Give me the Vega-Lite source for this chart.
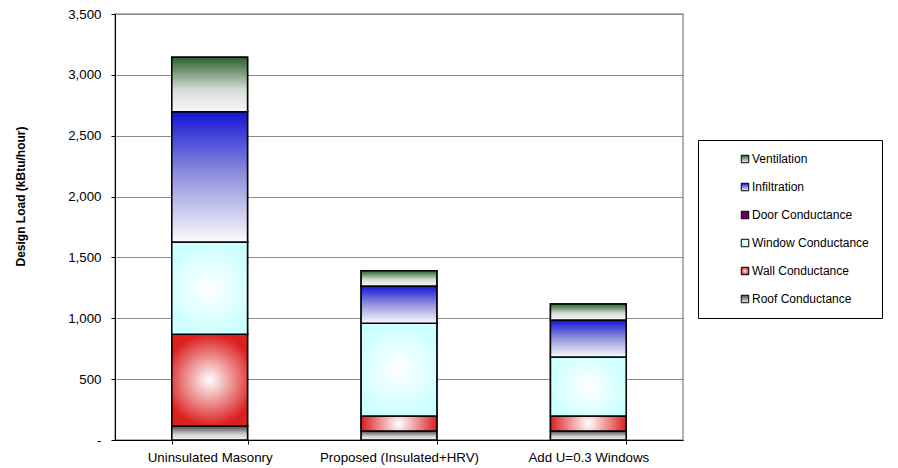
{
  "$schema": "https://vega.github.io/schema/vega-lite/v6.json",
  "width": 568,
  "height": 426,
  "autosize": {"type": "none"},
  "padding": {"left": 115, "top": 14, "right": 215, "bottom": 28},
  "background": "white",
  "config": {
    "font": "Liberation Sans",
    "view": {"stroke": "#9a9a9a", "strokeWidth": 1.5}
  },
  "data": {
    "values": [
      {"scenario": "Uninsulated Masonry", "component": "Roof Conductance", "idx": 1, "load": 115},
      {"scenario": "Uninsulated Masonry", "component": "Wall Conductance", "idx": 2, "load": 753},
      {"scenario": "Uninsulated Masonry", "component": "Window Conductance", "idx": 3, "load": 759},
      {"scenario": "Uninsulated Masonry", "component": "Door Conductance", "idx": 4, "load": 0},
      {"scenario": "Uninsulated Masonry", "component": "Infiltration", "idx": 5, "load": 1070},
      {"scenario": "Uninsulated Masonry", "component": "Ventilation", "idx": 6, "load": 447},
      {"scenario": "Proposed (Insulated+HRV)", "component": "Roof Conductance", "idx": 1, "load": 74},
      {"scenario": "Proposed (Insulated+HRV)", "component": "Wall Conductance", "idx": 2, "load": 123},
      {"scenario": "Proposed (Insulated+HRV)", "component": "Window Conductance", "idx": 3, "load": 762},
      {"scenario": "Proposed (Insulated+HRV)", "component": "Door Conductance", "idx": 4, "load": 0},
      {"scenario": "Proposed (Insulated+HRV)", "component": "Infiltration", "idx": 5, "load": 306},
      {"scenario": "Proposed (Insulated+HRV)", "component": "Ventilation", "idx": 6, "load": 126},
      {"scenario": "Add U=0.3 Windows", "component": "Roof Conductance", "idx": 1, "load": 74},
      {"scenario": "Add U=0.3 Windows", "component": "Wall Conductance", "idx": 2, "load": 123},
      {"scenario": "Add U=0.3 Windows", "component": "Window Conductance", "idx": 3, "load": 485},
      {"scenario": "Add U=0.3 Windows", "component": "Door Conductance", "idx": 4, "load": 0},
      {"scenario": "Add U=0.3 Windows", "component": "Infiltration", "idx": 5, "load": 304},
      {"scenario": "Add U=0.3 Windows", "component": "Ventilation", "idx": 6, "load": 131}
    ]
  },
  "transform": [
    {"stack": "load", "groupby": ["scenario"], "sort": [{"field": "idx", "order": "ascending"}], "as": ["y0", "y1"]}
  ],
  "encoding": {
    "x": {
      "field": "scenario",
      "type": "nominal",
      "sort": null,
      "scale": {"paddingInner": 0.6, "paddingOuter": 0.3},
      "axis": {
        "title": null,
        "labelAngle": 0,
        "tickBand": "extent",
        "tickSize": 4,
        "domainColor": "#000000",
        "tickColor": "#000000",
        "labelFontSize": 13.3,
        "labelColor": "#000000",
        "labelPadding": 6,
        "grid": false
      }
    },
    "y": {
      "field": "y1",
      "type": "quantitative",
      "scale": {"domain": [0, 3500], "nice": false},
      "axis": {
        "values": [0, 500, 1000, 1500, 2000, 2500, 3000, 3500],
        "grid": true,
        "gridColor": "#8c8c8c",
        "domainColor": "#000000",
        "tickColor": "#000000",
        "tickSize": 4,
        "labelFontSize": 13.3,
        "labelColor": "#000000",
        "labelPadding": 10,
        "labelExpr": "datum.value === 0 ? '-\u00a0\u00a0' : datum.label",
        "title": "Design Load (kBtu/hour)",
        "titleFontSize": 12,
        "titleFontWeight": "bold",
        "titleColor": "#000000",
        "titleX": -88,
        "titleY": 182,
        "titleAlign": "center",
        "titleBaseline": "bottom"
      }
    },
    "y2": {"field": "y0"}
  },
  "layer": [
    {
      "mark": {"type": "bar", "stroke": "#000000", "strokeWidth": 1.5},
      "encoding": {
        "color": {
          "field": "component",
          "type": "nominal",
          "scale": {
            "domain": ["Ventilation", "Infiltration", "Door Conductance", "Window Conductance", "Wall Conductance", "Roof Conductance"],
            "range": [
              {"expr": "{gradient: 'linear', x1: 0, y1: 0, x2: 0, y2: 1, stops: [{offset: 0, color: '#2a632b'}, {offset: 1, color: '#f7f7f7'}]}"},
              {"expr": "{gradient: 'linear', x1: 0, y1: 0, x2: 0, y2: 1, stops: [{offset: 0, color: '#1414d6'}, {offset: 1, color: '#fbfbfd'}]}"},
              "#660066",
              {"expr": "{gradient: 'radial', x1: 0.5, y1: 0.5, r1: 0, x2: 0.5, y2: 0.5, r2: 0.5, stops: [{offset: 0, color: '#ffffff'}, {offset: 1, color: '#ccffff'}]}"},
              {"expr": "{gradient: 'radial', x1: 0.5, y1: 0.5, r1: 0, x2: 0.5, y2: 0.5, r2: 0.5, stops: [{offset: 0, color: '#ffffff'}, {offset: 1, color: '#dc2020'}]}"},
              {"expr": "{gradient: 'linear', x1: 0, y1: 0, x2: 0, y2: 1, stops: [{offset: 0, color: '#4a4a4a'}, {offset: 1, color: '#f4f4f4'}]}"}
            ]
          },
          "legend": {
            "orient": "none",
            "legendX": 583,
            "legendY": 126,
            "title": null,
            "padding": 13,
            "strokeColor": "#000000",
            "fillColor": "#ffffff",
            "symbolType": "square",
            "symbolSize": 56,
            "symbolStrokeColor": "#000000",
            "symbolStrokeWidth": 1,
            "symbolOffset": 28,
            "labelOffset": 1,
            "labelFontSize": 12,
            "labelColor": "#000000",
            "labelLimit": 300,
            "rowPadding": 16
          }
        }
      }
    },
    {
      "transform": [{"filter": "datum.component === 'Roof Conductance'"}],
      "mark": {"type": "bar", "stroke": "#000000", "strokeWidth": 1.5, "color": {"gradient": "linear", "x1": 0, "y1": 0, "x2": 0, "y2": 1, "stops": [{"offset": 0, "color": "#4a4a4a"}, {"offset": 0.6, "color": "#d0d0d0"}, {"offset": 1, "color": "#f4f4f4"}]}}
    },
    {
      "transform": [{"filter": "datum.component === 'Wall Conductance'"}],
      "mark": {"type": "bar", "stroke": "#000000", "strokeWidth": 1.5, "color": {"gradient": "radial", "x1": 0.5, "y1": 0.5, "r1": 0, "x2": 0.5, "y2": 0.5, "r2": 0.5, "stops": [{"offset": 0, "color": "#ffffff"}, {"offset": 1, "color": "#dc2020"}]}}
    },
    {
      "transform": [{"filter": "datum.component === 'Window Conductance'"}],
      "mark": {"type": "bar", "stroke": "#000000", "strokeWidth": 1.5, "color": {"gradient": "radial", "x1": 0.5, "y1": 0.5, "r1": 0, "x2": 0.5, "y2": 0.5, "r2": 0.5, "stops": [{"offset": 0, "color": "#ffffff"}, {"offset": 1, "color": "#ccffff"}]}}
    },
    {
      "transform": [{"filter": "datum.component === 'Infiltration'"}],
      "mark": {"type": "bar", "stroke": "#000000", "strokeWidth": 1.5, "color": {"gradient": "linear", "x1": 0, "y1": 0, "x2": 0, "y2": 1, "stops": [{"offset": 0, "color": "#1414d6"}, {"offset": 0.5, "color": "#9494de"}, {"offset": 1, "color": "#fbfbfd"}]}}
    },
    {
      "transform": [{"filter": "datum.component === 'Ventilation'"}],
      "mark": {"type": "bar", "stroke": "#000000", "strokeWidth": 1.5, "color": {"gradient": "linear", "x1": 0, "y1": 0, "x2": 0, "y2": 1, "stops": [{"offset": 0, "color": "#2a632b"}, {"offset": 0.6, "color": "#d9ddd9"}, {"offset": 1, "color": "#f7f7f7"}]}}
    }
  ]
}
